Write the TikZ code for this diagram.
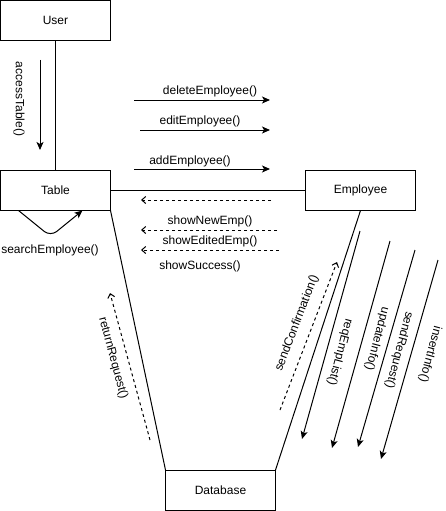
\documentclass[tikz,border=0pt]{standalone}
\usepackage{fontspec}
\setmainfont{Liberation Sans}
\usetikzlibrary{arrows.meta}

\begin{document}
\begin{tikzpicture}[x=1pt,y=-1pt,line width=1pt,
    font=\fontsize{12}{14}\selectfont,
    box/.style={draw,minimum width=110pt,minimum height=40pt,outer sep=0pt,inner sep=0pt},
    call/.style={-{Stealth[length=8pt,width=7pt,inset=2pt]}},
    reply/.style={dashed,dash pattern=on 3pt off 3pt,-{Straight Barb[length=4pt,width=7pt]}},
    lbl/.style={inner sep=0pt}]
      \useasboundingbox (0,0) rectangle (446,511);
      \node[box] (user) at (55.5,20.5) {User};
      \node[box] (table) at (55.5,190.5) {Table};
      \node[box] (employee) at (360.5,190.5) {Employee};
      \node[box] (database) at (220.5,490) {Database};
      \draw (user.south) -- (table.north);
      \draw (table.east) -- (employee.west);
      \draw (table.south east) -- (database.north west);
      \draw (employee.south) -- (database.north east);
      \coordinate (acc-a) at (40,60);
      \coordinate (acc-b) at (40,150);
      \draw[call] (acc-a) -- (acc-b);
      \node[lbl,rotate=-90] (acc-l) at (19,99) {accessTable()};
      \draw[call,rounded corners=8pt] ([xshift=18pt]table.south west) -- ++(32,26) -- ([xshift=82pt]table.south west);
      \node[lbl] (search-l) at (50,250) {searchEmployee()};
      \coordinate (del-a) at (134,100);
      \coordinate (del-b) at (270,100);
      \coordinate (edit-a) at (140,130);
      \coordinate (edit-b) at (270,130);
      \coordinate (add-a) at (134,169);
      \coordinate (add-b) at (270,169);
      \draw[call] (del-a) -- (del-b);
      \draw[call] (edit-a) -- (edit-b);
      \draw[call] (add-a) -- (add-b);
      \node[lbl] (del-l) at (210,91) {deleteEmployee()};
      \node[lbl] (edit-l) at (200,121) {editEmployee()};
      \node[lbl] (add-l) at (190,161) {addEmployee()};
      \coordinate (ret1-a) at (271,200);
      \coordinate (ret1-b) at (141,200);
      \coordinate (new-a) at (277,230);
      \coordinate (new-b) at (141,230);
      \coordinate (edited-a) at (279,250);
      \coordinate (edited-b) at (141,250);
      \draw[reply] (ret1-a) -- (ret1-b);
      \draw[reply] (new-a) -- (new-b);
      \draw[reply] (edited-a) -- (edited-b);
      \node[lbl] (new-l) at (210,221) {showNewEmp()};
      \node[lbl] (edited-l) at (210,241) {showEditedEmp()};
      \node[lbl] (success-l) at (200,266) {showSuccess()};
      \coordinate (ret-a) at (150,440);
      \coordinate (ret-b) at (110,293);
      \draw[reply] (ret-a) -- (ret-b);
      \node[lbl,rotate=-75] (ret-l) at (113,358) {returnRequest()};
      \coordinate (conf-a) at (280,410);
      \coordinate (conf-b) at (337,262);
      \draw[reply] (conf-a) -- (conf-b);
      \node[lbl,rotate=69] (conf-l) at (297,323) {sendConfirmation()};
      \coordinate (req-a) at (360,231);
      \coordinate (req-b) at (302,439);
      \coordinate (upd-a) at (390,241);
      \coordinate (upd-b) at (332,448);
      \coordinate (sreq-a) at (415,250);
      \coordinate (sreq-b) at (358,447);
      \coordinate (ins-a) at (438,260);
      \coordinate (ins-b) at (381,459);
      \draw[call] (req-a) -- (req-b);
      \draw[call] (upd-a) -- (upd-b);
      \draw[call] (sreq-a) -- (sreq-b);
      \draw[call] (ins-a) -- (ins-b);
      \node[lbl,rotate=-105] (req-l) at (340,352) {reqEmpList()};
      \node[lbl,rotate=-105] (upd-l) at (377,339) {updateInfo()};
      \node[lbl,rotate=-105] (sreq-l) at (399,350) {sendRequest()};
      \node[lbl,rotate=-105] (ins-l) at (430,354) {insertInfo()};
     \end{tikzpicture}
\end{document}
